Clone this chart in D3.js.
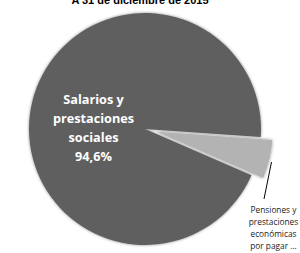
<!DOCTYPE html>
<html>
<head>
<meta charset="utf-8">
<script src="https://cdn.jsdelivr.net/npm/d3@7"></script>
<style>
  body { margin: 0; background: #fff; }
  svg { display: block; }
</style>
</head>
<body>
<svg width="300" height="253"></svg>
<script>
// Data
const categories = ['Salarios y prestaciones sociales', 'Pensiones y prestaciones económicas por pagar ...']
const values = [94.6, 5.4]
const colors = ['#5f5f5f', '#b3b3b3']
const titleText = 'A 31 de diciembre de 2015'

const svg = d3.select('svg')
const cx = 145
const cy = 129
const radius = 116

// soft shadow like the original
const defs = svg.append('defs')
const filter = defs.append('filter').attr('id', 'shadow')
  .attr('x', '-10%').attr('y', '-10%').attr('width', '120%').attr('height', '120%')
filter.append('feDropShadow')
  .attr('dx', 0).attr('dy', 0).attr('stdDeviation', 1.5)
  .attr('flood-color', '#000').attr('flood-opacity', 0.45)

// rotate so the small slice sits on the right
const startAngle = (94 + 19.44) * Math.PI / 180
const pie = d3.pie().sort(null)
  .startAngle(startAngle)
  .endAngle(startAngle + 2 * Math.PI)
const arcs = pie(values)

const arc = d3.arc().innerRadius(0).outerRadius(radius)
const explode = [0, 12]

const g = svg.append('g').attr('transform', `translate(${cx},${cy})`)

g.selectAll('path')
  .data(arcs)
  .join('path')
  .attr('d', arc)
  .attr('fill', (d, i) => colors[i])
  .attr('filter', 'url(#shadow)')
  .attr('transform', (d, i) => {
    const mid = (d.startAngle + d.endAngle) / 2
    return `translate(${Math.sin(mid) * explode[i]},${-Math.cos(mid) * explode[i]})`
  })

// title (cut off at the top in the original)
svg.append('text')
  .attr('x', 140)
  .attr('y', 4)
  .attr('text-anchor', 'middle')
  .style('font-family', 'Liberation Sans, Arial, sans-serif')
  .style('font-weight', 'bold')
  .style('font-size', '11px')
  .text(titleText)

// inside label
const insideLines = ['Salarios y', 'prestaciones', 'sociales', values[0].toFixed(1).replace('.', ',') + '%']
svg.append('text')
  .attr('text-anchor', 'middle')
  .style('font-family', 'Open Sans, sans-serif')
  .style('font-weight', 'bold')
  .style('font-size', '12.7px')
  .attr('fill', '#fff')
  .selectAll('tspan')
  .data(insideLines)
  .join('tspan')
  .attr('x', 93.5)
  .attr('y', (d, i) => 104 + i * 19)
  .text(d => d)

// outside label with leader line
const outsideLines = ['Pensiones y', 'prestaciones', 'económicas', 'por pagar ...']
svg.append('line')
  .attr('x1', 271.5).attr('y1', 162)
  .attr('x2', 264).attr('y2', 199)
  .attr('stroke', '#000')
  .attr('stroke-width', 1)

svg.append('text')
  .attr('text-anchor', 'middle')
  .style('font-family', 'Open Sans, sans-serif')
  .style('font-size', '8.3px')
  .attr('fill', '#222')
  .selectAll('tspan')
  .data(outsideLines)
  .join('tspan')
  .attr('x', 273.5)
  .attr('y', (d, i) => 213 + i * 12)
  .text(d => d)
</script>
</body>
</html>
